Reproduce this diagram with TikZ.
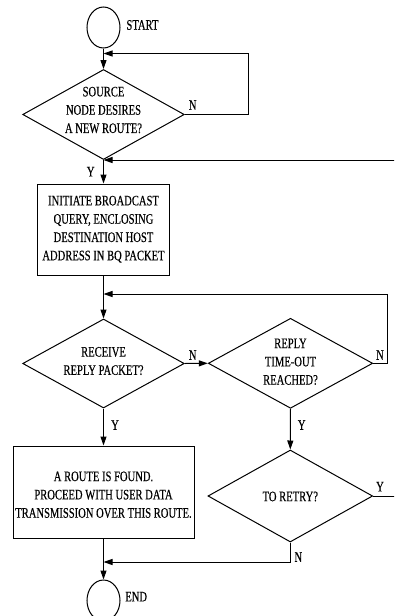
\documentclass[tikz,border=0pt]{standalone}
\usepackage{fontspec}
\setmainfont{Liberation Serif}[FakeStretch=0.73,FakeBold=0.3]
\usetikzlibrary{shapes.geometric,arrows.meta}
\begin{document}
\begin{tikzpicture}[x=1pt,y=-1pt,
  lw/.style={line width=1pt},
  txt/.style={font=\fontsize{14.5}{18.3}\selectfont, inner sep=0pt, align=center},
  term/.style={ellipse, draw, lw, minimum width=33pt, minimum height=41pt, inner sep=0pt},
  dec/.style={diamond, draw, lw, inner sep=0pt},
  proc/.style={rectangle, draw, lw, inner sep=0pt},
  flow/.style={lw, -{Triangle[length=9pt,width=6pt]}},
]
\useasboundingbox (0,0) rectangle (394,616);
\clip (0,0) rectangle (394,616);

\node[term] (start) at (103.5,27.5) {};
\node[txt] (startl) at (142.5,25) {START};
\node[dec, minimum width=161.6pt, minimum height=90pt] (d1) at (103.5,114.5) {};
\node[txt] (d1t) at (103.5,110) {SOURCE\\NODE DESIRES\\A NEW ROUTE?};
\node[proc, minimum width=132pt, minimum height=91pt] (b1) at (103.5,229.5) {};
\node[txt] (b1t) at (103.5,229.2) {INITIATE BROADCAST\\QUERY, ENCLOSING\\DESTINATION HOST\\ADDRESS IN BQ PACKET};
\node[dec, minimum width=161.6pt, minimum height=89pt] (d2) at (103.5,363.5) {};
\node[txt] (d2t) at (103.5,361) {RECEIVE\\REPLY PACKET?};
\node[dec, minimum width=164.4pt, minimum height=90pt] (d3) at (290.5,363.3) {};
\node[txt] (d3t) at (290.5,361.7) {REPLY\\TIME-OUT\\REACHED?};
\node[dec, minimum width=164.7pt, minimum height=92pt] (d4) at (290.3,496) {};
\node[txt] (d4t) at (290.3,496.5) {TO RETRY?};
\node[proc, minimum width=181pt, minimum height=92pt] (b2) at (103.5,492) {};
\node[txt] (b2t) at (103.5,494.7) {A ROUTE IS FOUND.\\PROCEED WITH USER DATA\\TRANSMISSION OVER THIS ROUTE.};
\node[term] (end) at (103.5,600.5) {};
\node[txt] (endl) at (136.2,596.7) {END};

\coordinate (m1) at (103.5,53.5);
\coordinate (m0) at (103.5,160);
\coordinate (m2) at (103.5,294);
\coordinate (m3) at (103.5,562);

\draw[flow] (start.south) -- (d1.north);
\draw[flow] (d1.east) -- ++(64,0) |- (m1);
\draw[flow] (d1.south) -- (b1.north);
\draw[flow] (d4.east) -- ++(40,0) |- (m0);
\draw[flow] (b1.south) -- (d2.north);
\draw[flow] (d2.east) -- (d3.west);
\draw[flow] (d3.east) -- ++(14.6,0) |- (m2);
\draw[flow] (d2.south) -- (b2.north);
\draw[flow] (d3.south) -- (d4.north);
\draw[flow] (b2.south) -- (end.north);
\draw[flow] (d4.south) |- (m3);

\node[txt] (y1) at (90.7,171.7) {Y};
\node[txt] (n1) at (192.7,105) {N};
\node[txt] (n2) at (192.7,355) {N};
\node[txt] (n3) at (380,355) {N};
\node[txt] (y2) at (115,425) {Y};
\node[txt] (y3) at (301.7,425) {Y};
\node[txt] (y4) at (380,486.7) {Y};
\node[txt] (n4) at (298.3,557) {N};
\end{tikzpicture}
\end{document}
